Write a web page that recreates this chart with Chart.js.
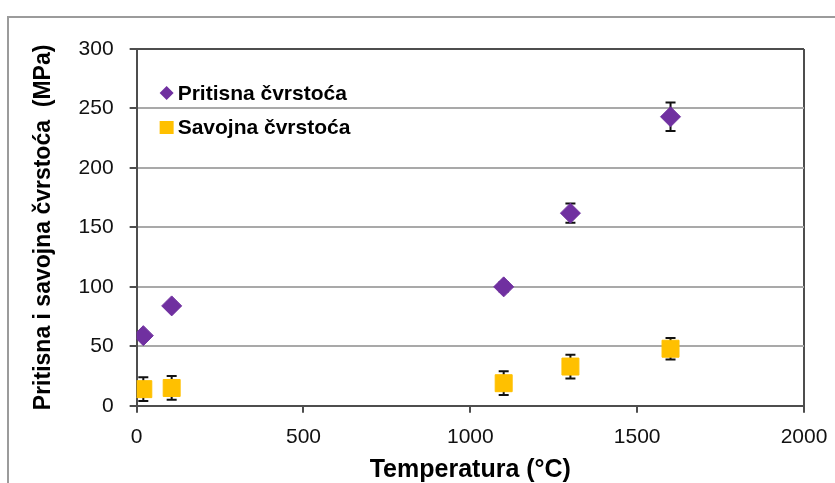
<!DOCTYPE html>
<html>
<head>
<meta charset="utf-8">
<script src="https://cdn.jsdelivr.net/npm/chart.js@4.4.1/dist/chart.umd.min.js"></script>
<style>
body { margin: 0; background: #fff; }
#wrap { position: relative; width: 835px; height: 483px; overflow: hidden; }
#frame { position: absolute; left: 7px; top: 16px; width: 900px; height: 500px; border: 2px solid #9b9b9b; }
#chart { position: absolute; left: 0; top: 0; }
</style>
</head>
<body>
<div id="wrap">
    <div id="frame"></div>
    <canvas id="chart" width="835" height="483"></canvas>
</div>
<script>
// temperature (°C) of each sample
const temperature = [20, 105, 1100, 1300, 1600];
// compressive strength (MPa) and its spread
const pritisna = [59, 84, 100, 162, 243];
const pritisnaErr = [3, 3, 4, 8, 12];
// flexural strength (MPa) and its spread
const savojna = [14, 15, 19, 33, 48];
const savojnaErr = [10, 10, 10, 10, 9];

const xTicks = [0, 500, 1000, 1500, 2000];
const yTicks = [0, 50, 100, 150, 200, 250, 300];

const PURPLE = '#7030a0';
const YELLOW = '#ffc000';
const AXIS = '#4d4d4d';
const GRID = '#a9a9a9';

Chart.defaults.font.family = '"Liberation Sans", Arial, sans-serif';
Chart.defaults.color = '#000';

function toPoints(xs, ys) {
    return xs.map((x, i) => ({x: x, y: ys[i]}));
}

// vertical error bars, drawn behind the markers
const errorBars = {
    id: 'errorBars',
    beforeDatasetsDraw(chart) {
        const ctx = chart.ctx, xs = chart.scales.x, ys = chart.scales.y;
        ctx.save();
        ctx.strokeStyle = '#111';
        ctx.lineWidth = 2;
        chart.data.datasets.forEach(ds => {
            ds.data.forEach((p, i) => {
                const e = ds.errors[i];
                const px = xs.getPixelForValue(p.x);
                const top = ys.getPixelForValue(p.y + e);
                const bot = ys.getPixelForValue(p.y - e);
                ctx.beginPath();
                ctx.moveTo(px, top); ctx.lineTo(px, bot);
                ctx.moveTo(px - 5, top); ctx.lineTo(px + 5, top);
                ctx.moveTo(px - 5, bot); ctx.lineTo(px + 5, bot);
                ctx.stroke();
            });
        });
        ctx.restore();
    }
};

// legend sitting inside the plot area, top left
const innerLegend = {
    id: 'innerLegend',
    afterDraw(chart) {
        const ctx = chart.ctx, area = chart.chartArea;
        const mx = area.left + 30;
        const rows = [area.top + 44, area.top + 78];
        ctx.save();
        ctx.font = 'bold 21px "Liberation Sans", Arial, sans-serif';
        ctx.textBaseline = 'middle';
        chart.data.datasets.forEach((ds, i) => {
            const my = rows[i];
            ctx.fillStyle = ds.backgroundColor;
            ctx.beginPath();
            if (ds.pointStyle === 'rectRot') {
                ctx.moveTo(mx - 7, my); ctx.lineTo(mx, my - 7);
                ctx.lineTo(mx + 7, my); ctx.lineTo(mx, my + 7);
            } else {
                ctx.rect(mx - 7, my - 6, 14, 13);
            }
            ctx.fill();
            ctx.fillStyle = '#000';
            ctx.fillText(ds.label, mx + 11, my + 1);
        });
        ctx.restore();
    }
};

const ctx = document.getElementById('chart').getContext('2d');
const chart = new Chart(ctx, {
    type: 'scatter',
    data: {
        datasets: [{
            label: 'Pritisna čvrstoća',
            data: toPoints(temperature, pritisna),
            errors: pritisnaErr,
            pointStyle: 'rectRot',
            pointRadius: 10,
            borderWidth: 1,
            borderColor: PURPLE,
            backgroundColor: PURPLE
        }, {
            label: 'Savojna čvrstoća',
            data: toPoints(temperature, savojna),
            errors: savojnaErr,
            pointStyle: 'rect',
            pointRadius: 12,
            borderWidth: 1,
            borderColor: YELLOW,
            backgroundColor: YELLOW
        }]
    },
    options: {
        responsive: false,
        animation: false,
        layout: {
            padding: {left: 30, right: 31, top: 49, bottom: 0}
        },
        plugins: {
            legend: {display: false},
            tooltip: {enabled: false}
        },
        scales: {
            x: {
                type: 'linear',
                min: 0,
                max: 2000,
                afterBuildTicks: axis => { axis.ticks = xTicks.map(v => ({value: v})); },
                afterFit: axis => { axis.paddingRight = 0; },
                grid: {
                    drawOnChartArea: true,
                    color: c => (c.tick && c.tick.value === 2000) ? AXIS : 'rgba(0,0,0,0)',
                    lineWidth: 2,
                    tickColor: AXIS,
                    tickLength: 7
                },
                border: {display: true, color: AXIS, width: 2},
                ticks: {
                    font: {size: 21},
                    color: '#111',
                    padding: 12,
                    maxRotation: 0,
                    callback: v => String(v)
                },
                title: {
                    display: true,
                    text: 'Temperatura (°C)',
                    font: {size: 25, weight: 'bold'},
                    padding: {top: -7, bottom: -2}
                }
            },
            y: {
                type: 'linear',
                min: 0,
                max: 300,
                afterBuildTicks: axis => { axis.ticks = yTicks.map(v => ({value: v})); },
                grid: {
                    color: c => (c.tick && c.tick.value === 300) ? AXIS : GRID,
                    lineWidth: 2,
                    tickColor: AXIS,
                    tickLength: 7
                },
                border: {display: true, color: AXIS, width: 2},
                ticks: {
                    font: {size: 21},
                    color: '#111',
                    padding: 16,
                    callback: v => String(v)
                },
                title: {
                    display: true,
                    text: 'Pritisna i savojna čvrstoća  (MPa)',
                    font: {size: 23, weight: 'bold'},
                    padding: {top: 0, bottom: 5}
                }
            }
        }
    },
    plugins: [errorBars, innerLegend]
});
</script>
</body>
</html>
